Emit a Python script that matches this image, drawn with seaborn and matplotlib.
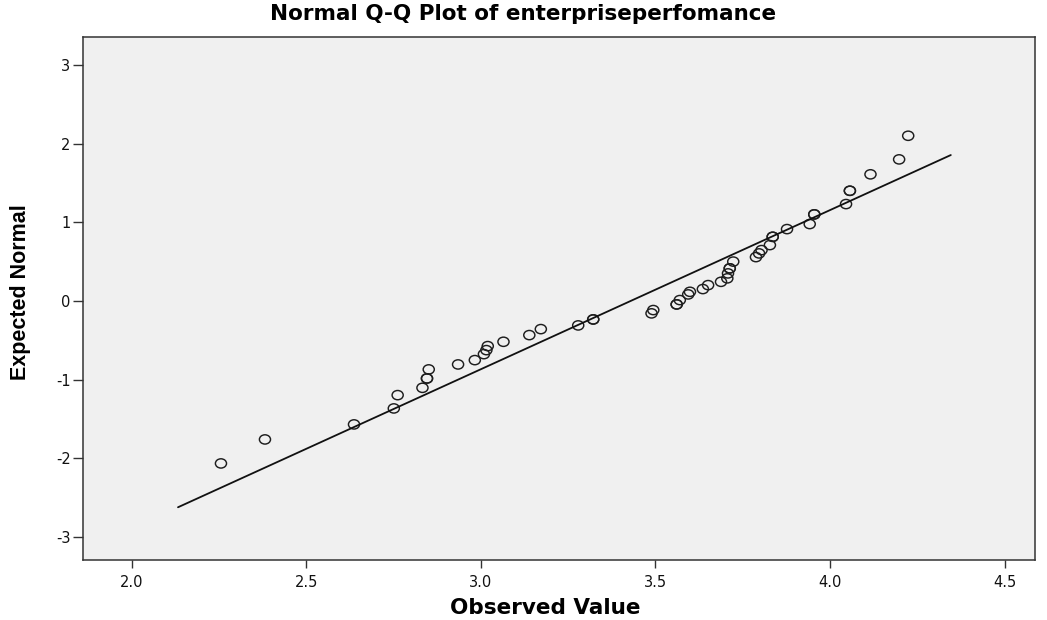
import matplotlib
matplotlib.use("Agg")
import matplotlib.pyplot as plt
from matplotlib.path import Path
from matplotlib.transforms import Affine2D
import seaborn as sns
import pandas as pd

# Observed values and their expected normal scores (tied values appear twice)
observed = [2.256, 2.382, 2.637, 2.751, 2.762, 2.833, 2.846, 2.846, 2.851, 2.935,
            2.983, 3.009, 3.016, 3.020, 3.065, 3.139, 3.172, 3.279, 3.322, 3.322,
            3.489, 3.494, 3.561, 3.561, 3.570, 3.594, 3.599, 3.636, 3.651, 3.688,
            3.706, 3.708, 3.713, 3.713, 3.723, 3.788, 3.797, 3.804, 3.828, 3.836,
            3.836, 3.877, 3.942, 3.955, 3.955, 4.046, 4.057, 4.057, 4.116, 4.198,
            4.224]
expected = [-2.063, -1.758, -1.567, -1.364, -1.195, -1.102, -0.983, -0.983, -0.868, -0.805,
            -0.750, -0.674, -0.623, -0.572, -0.517, -0.432, -0.356, -0.309, -0.233, -0.233,
            -0.156, -0.114, -0.042, -0.042, 0.013, 0.085, 0.118, 0.153, 0.203, 0.245,
            0.289, 0.352, 0.416, 0.416, 0.502, 0.559, 0.606, 0.648, 0.712, 0.817,
            0.817, 0.915, 0.979, 1.102, 1.102, 1.233, 1.402, 1.402, 1.611, 1.801,
            2.101]

# Reference line of the normal distribution
line_x = [2.133, 4.346]
line_y = [-2.62, 1.856]

x_ticks = [2.0, 2.5, 3.0, 3.5, 4.0, 4.5]
y_ticks = [-3, -2, -1, 0, 1, 2, 3]

points = pd.DataFrame({"Observed Value": observed, "Expected Normal": expected})
ref = pd.DataFrame({"x": line_x, "y": line_y})

sns.set_style("ticks", {"axes.facecolor": "#f0f0f0", "axes.edgecolor": "#333333"})
plt.rcParams["font.family"] = ["DejaVu Sans"]

fig = plt.figure(figsize=(10.47, 6.2), dpi=100)
ax = fig.add_axes([0.0793, 0.0968, 0.9092, 0.8435])

# slightly wide open circle marker
ring = Path.unit_circle().transformed(Affine2D().scale(1.2, 1.0))

sns.lineplot(data=ref, x="x", y="y", ax=ax, color="#111111", linewidth=1.3,
             legend=False)
sns.scatterplot(data=points, x="Observed Value", y="Expected Normal", ax=ax,
                marker=ring, s=64, facecolor="none", edgecolor="#1e1e1e",
                linewidth=1.05, legend=False)

ax.set_xlim(1.861, 4.587)
ax.set_ylim(-3.29, 3.356)
ax.set_xticks(x_ticks)
ax.set_xticklabels([f"{t:.1f}" for t in x_ticks], fontsize=10.5, color="#111111")
ax.set_yticks(y_ticks)
ax.set_yticklabels([str(t) for t in y_ticks], fontsize=10.5, color="#111111")
ax.tick_params(axis="x", direction="out", length=5.5, width=1.0, color="#333333", pad=5)
ax.tick_params(axis="y", direction="out", length=7, width=1.0, color="#333333", pad=2)

for side in ["left", "bottom", "top", "right"]:
    ax.spines[side].set_visible(True)
    ax.spines[side].set_linewidth(1.1)
    ax.spines[side].set_color("#333333")

ax.set_xlabel("Observed Value", fontsize=15.5, fontweight="bold", color="black")
ax.xaxis.set_label_coords(0.486, -0.072)
ax.set_ylabel("Expected Normal", family=["Liberation Sans", "DejaVu Sans"],
              fontsize=15.5, fontweight="bold", color="black")
ax.yaxis.set_label_coords(-0.0546, 0.512)

fig.text(0.5, 0.977, "Normal Q-Q Plot of enterpriseperfomance", ha="center",
         va="center", fontsize=15.5, fontweight="bold", color="black")

fig.savefig("out.png", dpi=100, facecolor="white")
